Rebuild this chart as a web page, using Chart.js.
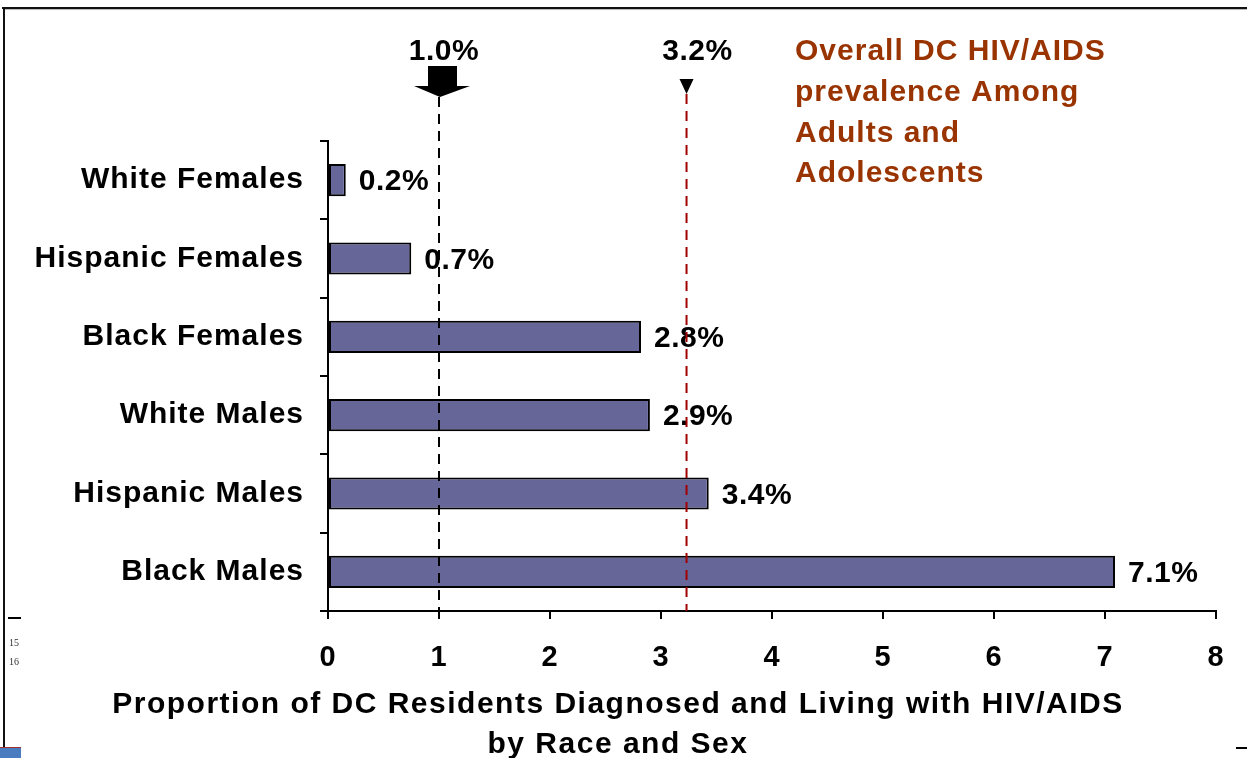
<!DOCTYPE html>
<html>
<head>
<meta charset="utf-8">
<script src="https://cdn.jsdelivr.net/npm/chart.js@4"></script>
<style>
  html, body { margin: 0; padding: 0; background: #fff; }
</style>
</head>
<body>
<canvas id="hivChart" width="1247" height="758"></canvas>
<script>
// chart data
const categories = ['White Females', 'Hispanic Females', 'Black Females', 'White Males', 'Hispanic Males', 'Black Males'];
const prevalence = [0.16, 0.75, 2.82, 2.9, 3.43, 7.09];
const valueLabels = ['0.2%', '0.7%', '2.8%', '2.9%', '3.4%', '7.1%'];
const refValues = [1.0, 3.23];
const refLabels = ['1.0%', '3.2%'];
const noteLines = ['Overall DC HIV/AIDS', 'prevalence Among', 'Adults and', 'Adolescents'];
const titleLines = ['Proportion of DC Residents Diagnosed and Living with HIV/AIDS', 'by Race and Sex'];

const FONT = '"Liberation Sans", Arial, sans-serif';

const overlay = {
    id: 'overlay',
    beforeDraw(chart) {
        chart.ctx.letterSpacing = '1px';
    },
    afterDatasetsDraw(chart) {
        const { ctx, scales: { x } } = chart;
        const bottom = chart.chartArea.bottom;
        ctx.save();

        // value labels next to the bars
        ctx.letterSpacing = '0.5px';
        ctx.font = 'bold 30px ' + FONT;
        ctx.fillStyle = '#000';
        ctx.textAlign = 'left';
        ctx.textBaseline = 'middle';
        chart.getDatasetMeta(0).data.forEach((bar, i) => {
            ctx.fillText(valueLabels[i], bar.x + 13, bar.y + 2);
        });

        // reference lines
        const lineColors = ['#000000', '#a00000'];
        const tops = [97, 94];
        refValues.forEach((v, i) => {
            const px = x.getPixelForValue(v);
            ctx.beginPath();
            ctx.setLineDash([10, 7]);
            ctx.lineWidth = 2;
            ctx.strokeStyle = lineColors[i];
            ctx.moveTo(px, tops[i]);
            ctx.lineTo(px, bottom);
            ctx.stroke();
        });
        ctx.setLineDash([]);

        // big block arrow over 1.0
        const a = x.getPixelForValue(refValues[0]);
        ctx.fillStyle = '#000';
        ctx.fillRect(a - 11, 66, 29, 21);
        ctx.beginPath();
        ctx.moveTo(a - 25, 86);
        ctx.lineTo(a + 31, 86);
        ctx.lineTo(a + 1, 97);
        ctx.closePath();
        ctx.fill();

        // small arrowhead over 3.2
        const b = x.getPixelForValue(refValues[1]);
        ctx.beginPath();
        ctx.moveTo(b - 7, 79);
        ctx.lineTo(b + 7, 79);
        ctx.lineTo(b, 94);
        ctx.closePath();
        ctx.fill();

        ctx.font = 'bold 30px ' + FONT;
        ctx.textAlign = 'center';
        ctx.fillText(refLabels[0], a + 5, 52);
        ctx.fillText(refLabels[1], b + 11, 52);

        // annotation
        ctx.letterSpacing = '1px';
        ctx.textAlign = 'left';
        ctx.fillStyle = '#993300';
        noteLines.forEach((t, i) => ctx.fillText(t, 795, 52 + i * 40.7));

        // axis title
        ctx.letterSpacing = '1.5px';
        ctx.fillStyle = '#000';
        ctx.textAlign = 'center';
        ctx.font = 'bold 30px ' + FONT;
        titleLines.forEach((t, i) => ctx.fillText(t, 618, 705 + i * 40));
        ctx.restore();
    },
    afterDraw(chart) {
        const ctx = chart.ctx;
        ctx.save();
        ctx.letterSpacing = '0px';
        // page frame
        ctx.fillStyle = '#111';
        ctx.fillRect(2, 7, 1245, 2);
        ctx.fillRect(3, 8, 2, 750);
        ctx.fillStyle = '#bbb';
        ctx.fillRect(5, 9, 1242, 1);
        ctx.fillStyle = '#000';
        ctx.fillRect(8, 617, 13, 2);
        ctx.fillRect(1236, 747, 11, 2);
        ctx.fillStyle = '#4a7cc0';
        ctx.fillRect(0, 748, 21, 10);
        ctx.fillStyle = '#a03030';
        ctx.fillRect(0, 747, 21, 1);
        ctx.fillStyle = '#333';
        ctx.font = '10px "Liberation Serif", serif';
        ctx.textAlign = 'left';
        ctx.textBaseline = 'middle';
        ctx.fillText('15', 9, 643);
        ctx.fillText('16', 9, 662);
        ctx.restore();
    }
};

const ctx = document.getElementById('hivChart').getContext('2d');

new Chart(ctx, {
    type: 'bar',
    data: {
        labels: categories,
        datasets: [{
            data: prevalence,
            backgroundColor: '#666699',
            borderColor: '#000000',
            borderWidth: 2,
            borderSkipped: false,
            categoryPercentage: 1,
            barPercentage: 0.41
        }]
    },
    options: {
        indexAxis: 'y',
        responsive: false,
        animation: false,
        layout: {
            padding: { left: 0, top: 141, right: 31, bottom: 0 }
        },
        plugins: {
            legend: { display: false },
            tooltip: { enabled: false }
        },
        scales: {
            x: {
                min: 0,
                max: 8,
                ticks: {
                    stepSize: 1,
                    color: '#000',
                    padding: 22,
                    font: { family: FONT, size: 29, weight: 'bold' }
                },
                grid: {
                    drawOnChartArea: false,
                    drawTicks: true,
                    tickLength: 8,
                    color: '#000',
                    lineWidth: 2
                },
                border: { color: '#000', width: 2 },
                afterFit(scale) { scale.height = 147; }
            },
            y: {
                ticks: {
                    color: '#000',
                    padding: 16,
                    font: { family: FONT, size: 30, weight: 'bold' }
                },
                grid: {
                    drawOnChartArea: false,
                    drawTicks: true,
                    tickLength: 8,
                    color: '#000',
                    lineWidth: 2
                },
                border: { color: '#000', width: 2 },
                afterFit(scale) { scale.width = 328; }
            }
        }
    },
    plugins: [overlay]
});
</script>
</body>
</html>
